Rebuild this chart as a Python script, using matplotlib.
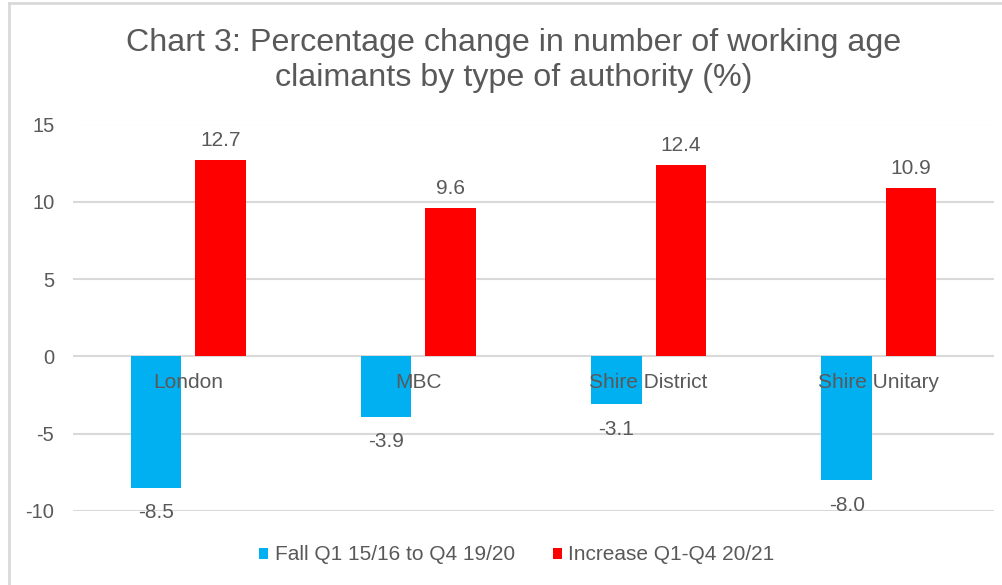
import matplotlib
matplotlib.use("Agg")
import matplotlib.pyplot as plt
from matplotlib.patches import Patch
from matplotlib.lines import Line2D
import numpy as np

categories = ["London", "MBC", "Shire District", "Shire Unitary"]
fall_values = [-8.5, -3.9, -3.1, -8.0]
increase_values = [12.7, 9.6, 12.4, 10.9]
series_names = ["Fall Q1 15/16 to Q4 19/20", "Increase Q1-Q4 20/21"]
yticks = [-10, -5, 0, 5, 10, 15]
title_lines = ["Chart 3: Percentage change in number of working age",
               "claimants by type of authority (%)"]

BLUE = "#00B0F0"
RED = "#FF0000"
TXT = "#595959"
GRID = "#D9D9D9"
FS = 15

plt.rcParams['font.family'] = ['Liberation Sans', 'DejaVu Sans']

W, H = 1002, 585
fig = plt.figure(figsize=(W / 100, H / 100), dpi=100)

# axes placement in pixels
left_px, right_px = 73, 994
top_px, bot_px = 124.5, 511
ax = fig.add_axes([left_px / W, 1 - bot_px / H, (right_px - left_px) / W, (bot_px - top_px) / H])

x = np.arange(len(categories))
bw = 0.22
off = 0.14
ax.bar(x - off, fall_values, bw, color=BLUE, zorder=3)
ax.bar(x + off, increase_values, bw, color=RED, zorder=3)

ax.set_xlim(-0.5, len(categories) - 0.5)
ax.set_ylim(-10, 15)
ax.set_yticks(yticks)
ax.set_yticklabels([str(t) for t in yticks])
ax.tick_params(axis='y', length=0, pad=13.5, labelsize=FS - 0.5, labelcolor=TXT)
ax.set_xticks([])
for s in ax.spines.values():
    s.set_visible(False)
ax.grid(axis='y', color=GRID, linewidth=1.5, zorder=0)
ax.set_axisbelow(True)

# data labels
for xi, v in zip(x - off, fall_values):
    ax.annotate(f"{v:.1f}", (xi, v), xytext=(0, -18), textcoords='offset points',
                ha='center', va='center', fontsize=FS, color=TXT, annotation_clip=False)
for xi, v in zip(x + off, increase_values):
    ax.annotate(f"{v:.1f}", (xi, v), xytext=(0, 14), textcoords='offset points',
                ha='center', va='center', fontsize=FS, color=TXT, annotation_clip=False)

# category labels just below the zero line
for xi, c in zip(x, categories):
    ax.annotate(c, (xi, 0), xytext=(0, -19), textcoords='offset points',
                ha='center', va='center', fontsize=FS, color=TXT, zorder=5, annotation_clip=False)

# title (two lines, baselines measured in pixels)
for line, base_px in zip(title_lines, [51, 86]):
    fig.text(514 / W, 1 - base_px / H, line, ha='center', va='baseline',
             fontsize=23.2, color=TXT)

# legend
handles = [Patch(facecolor=BLUE, edgecolor='none'), Patch(facecolor=RED, edgecolor='none')]
fig.legend(handles, series_names, loc='center', bbox_to_anchor=(517 / W, 1 - 555 / H),
           ncol=2, frameon=False, fontsize=FS, handlelength=0.43, handleheight=0.43,
           handletextpad=0.3, columnspacing=1.85, labelcolor=TXT, borderpad=0)

# outer border (left and top)
fig.add_artist(Line2D([9 / W, 9 / W], [0, 1 - 3 / H], transform=fig.transFigure, color=GRID, lw=2))
fig.add_artist(Line2D([9 / W, 1], [1 - 3 / H, 1 - 3 / H], transform=fig.transFigure, color=GRID, lw=2))

fig.savefig("out.png", dpi=100, facecolor='white')
